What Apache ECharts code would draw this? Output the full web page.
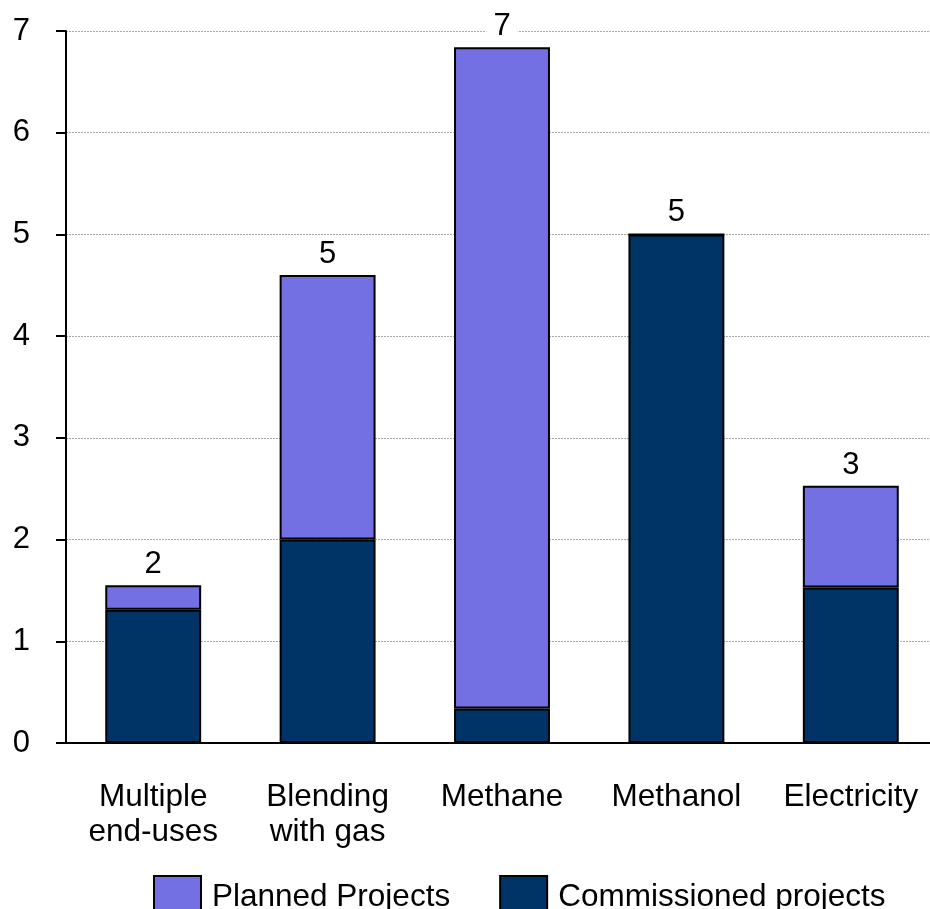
<!DOCTYPE html>
<html>
<head>
<meta charset="utf-8">
<script src="https://cdn.jsdelivr.net/npm/echarts@6/dist/echarts.min.js"></script>
<style>
html,body{margin:0;padding:0;background:#fff;overflow:hidden;}
#chart{width:930px;height:909px;}
</style>
</head>
<body>
<div id="chart"></div>
<script>
const categories = ['Multiple\nend-uses', 'Blending\nwith gas', 'Methane', 'Methanol', 'Electricity'];
const commissioned = [1.31, 2.0, 0.34, 5.0, 1.53];
const planned = [0.24, 2.6, 6.5, 0, 1.0];
const totalLabels = ['2', '5', '7', '5', '3'];
const yTicks = [0, 1, 2, 3, 4, 5, 6, 7];

const FONT = '"Liberation Sans", Arial, sans-serif';
const chart = echarts.init(document.getElementById('chart'));
chart.setOption({
  animation: false,
  backgroundColor: '#fff',
  grid: { left: 66, width: 872, top: 31, height: 712, containLabel: false, outerBoundsMode: 'none' },
  legend: {
    data: ['Planned Projects', 'Commissioned projects'],
    left: 153, top: 875, padding: 0,
    itemWidth: 47, itemHeight: 42, itemGap: 49,
    icon: 'rect',
    textStyle: { fontFamily: FONT, fontSize: 31.5, color: '#000', padding: [0, 0, 0, 6] }
  },
  xAxis: {
    type: 'category',
    data: categories,
    axisLine: { show: true, lineStyle: { color: '#000', width: 2 } },
    axisTick: { show: false },
    axisLabel: { fontFamily: FONT, fontSize: 31.5, color: '#000', lineHeight: 35, margin: 37, interval: 0 }
  },
  yAxis: {
    type: 'value',
    min: yTicks[0], max: yTicks[yTicks.length - 1], interval: 1,
    axisLine: { show: true, lineStyle: { color: '#000', width: 2 } },
    axisTick: { show: true, inside: false, length: 10, lineStyle: { color: '#000', width: 2 } },
    axisLabel: { fontFamily: FONT, fontSize: 31, color: '#000', margin: 36 },
    splitLine: { show: true, lineStyle: { color: '#a8a8a8', width: 1, type: [2, 1] } }
  },
  series: [
    {
      name: 'Commissioned projects',
      type: 'bar',
      stack: 'total',
      barWidth: '55%',
      data: commissioned,
      itemStyle: { color: '#003366', borderColor: '#000', borderWidth: 2 }
    },
    {
      name: 'Planned Projects',
      type: 'bar',
      stack: 'total',
      barWidth: '55%',
      data: planned,
      itemStyle: { color: '#7370E3', borderColor: '#000', borderWidth: 2 },
      label: {
        show: true,
        position: 'top',
        distance: 5,
        formatter: p => totalLabels[p.dataIndex],
        fontFamily: FONT, fontSize: 31, color: '#000',
        backgroundColor: '#fff',
        padding: [0, 7]
      }
    }
  ]
});
</script>
</body>
</html>
